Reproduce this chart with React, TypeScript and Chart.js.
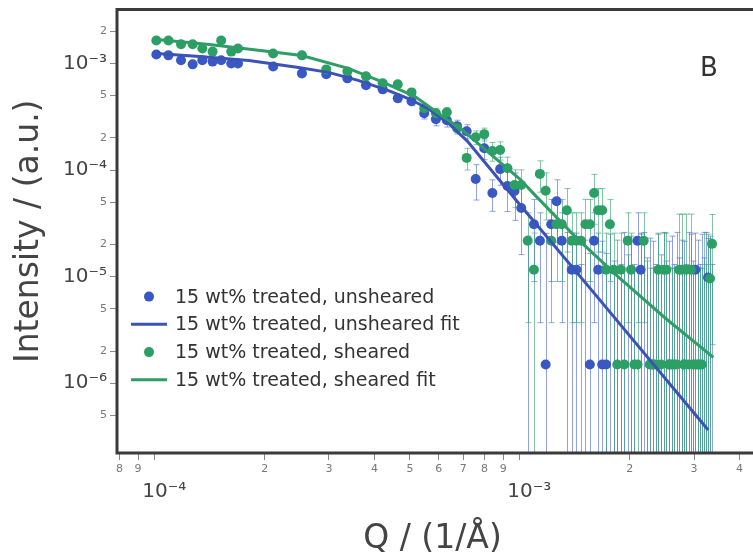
import { useEffect, useRef } from 'react';
import { Chart, registerables } from 'chart.js';

Chart.register(...registerables);

// Scattering vector Q (1/Å), shared by both measured series
const qValues: number[] = [
  1.01e-4, 1.09e-4, 1.18e-4, 1.27e-4, 1.35e-4, 1.44e-4, 1.52e-4, 1.62e-4, 1.69e-4,
  2.11e-4, 2.53e-4, 2.95e-4, 3.37e-4, 3.79e-4, 4.21e-4, 4.63e-4, 5.05e-4, 5.47e-4, 5.89e-4,
  6.31e-4, 6.73e-4, 7.15e-4, 7.57e-4, 7.99e-4, 8.41e-4, 8.83e-4, 9.25e-4, 9.67e-4, 1.009e-3,
  1.051e-3, 1.093e-3, 1.135e-3, 1.177e-3, 1.219e-3, 1.261e-3, 1.303e-3, 1.345e-3, 1.387e-3, 1.429e-3,
  1.471e-3, 1.513e-3, 1.555e-3, 1.597e-3, 1.639e-3, 1.681e-3, 1.723e-3, 1.765e-3, 1.807e-3, 1.849e-3,
  1.891e-3, 1.933e-3, 1.975e-3, 2.017e-3, 2.059e-3, 2.101e-3, 2.143e-3, 2.185e-3, 2.227e-3, 2.269e-3,
  2.311e-3, 2.353e-3, 2.395e-3, 2.437e-3, 2.479e-3, 2.521e-3, 2.563e-3, 2.605e-3, 2.647e-3, 2.689e-3,
  2.731e-3, 2.773e-3, 2.815e-3, 2.857e-3, 2.899e-3, 2.941e-3, 2.983e-3, 3.025e-3, 3.067e-3, 3.109e-3,
  3.151e-3, 3.193e-3, 3.235e-3, 3.277e-3, 3.319e-3, 3.361e-3,
];

// 15 wt% treated, unsheared (0 = no positive intensity: only its error bar shows)
const unshearedI: number[] = [
  1.21e-3, 1.19e-3, 1.07e-3, 9.8e-4, 1.07e-3, 1.04e-3, 1.07e-3, 1.0e-3, 1.0e-3,
  9.37e-4, 8.06e-4, 7.9e-4, 7.24e-4, 6.23e-4, 5.71e-4, 4.71e-4, 4.41e-4, 3.41e-4, 3.0e-4,
  2.93e-4, 2.58e-4, 2.31e-4, 8.23e-5, 1.6e-4, 6.1e-5, 1.02e-4, 7.08e-5, 6.37e-5, 4.41e-5,
  0, 3.1e-5, 2.17e-5, 1.5e-6, 3.1e-5, 5.1e-5, 2.17e-5, 0, 1.16e-5, 1.16e-5,
  0, 0, 1.5e-6, 2.17e-5, 1.16e-5, 1.5e-6, 1.5e-6, 0, 0, 0,
  0, 0, 0, 0, 0, 2.17e-5, 1.16e-5, 0, 0, 0,
  1.5e-6, 0, 0, 0, 0, 0, 1.5e-6, 0, 0, 0,
  0, 0, 1.5e-6, 0, 0, 0, 0, 1.16e-5, 0, 0,
  0, 0, 0, 9.8e-6, 0, 0,
];
const unshearedErr: number[] = [
  3.5e-5, 3.5e-5, 3.5e-5, 3.5e-5, 3.5e-5, 3.5e-5, 3.5e-5, 3.5e-5, 3.5e-5,
  3e-5, 5e-5, 4e-5, 4e-5, 4e-5, 4e-5, 4e-5, 4e-5, 4e-5, 4e-5,
  4e-5, 3.5e-5, 3.5e-5, 3e-5, 3.5e-5, 2e-5, 3e-5, 3e-5, 3e-5, 2.8e-5,
  2.4e-5, 2.2e-5, 1.8e-5, 2.4e-5, 2.2e-5, 3e-5, 1.8e-5, 2.6e-5, 1.4e-5, 1.4e-5,
  1.3e-5, 2.2e-5, 1.5e-5, 1.8e-5, 1.4e-5, 2e-5, 1.5e-5, 2.5e-5, 1.4e-5, 2.2e-5,
  1.3e-5, 2.6e-5, 1.6e-5, 2.4e-5, 1.3e-5, 1.8e-5, 1.4e-5, 2.6e-5, 1.5e-5, 2.3e-5,
  2e-5, 1.3e-5, 2.5e-5, 1.6e-5, 2.6e-5, 1.4e-5, 2e-5, 2.4e-5, 1.3e-5, 2.6e-5,
  1.5e-5, 2.2e-5, 2e-5, 1.3e-5, 2.6e-5, 2.5e-5, 1.4e-5, 1.4e-5, 2.2e-5, 1.3e-5,
  2.5e-5, 1.5e-5, 2.6e-5, 1.3e-5, 2.4e-5, 1.3e-5,
];

// 15 wt% treated, sheared
const shearedI: number[] = [
  1.64e-3, 1.64e-3, 1.51e-3, 1.51e-3, 1.38e-3, 1.29e-3, 1.64e-3, 1.29e-3, 1.38e-3,
  1.24e-3, 1.19e-3, 8.79e-4, 8.42e-4, 7.56e-4, 6.5e-4, 6.37e-4, 5.35e-4, 3.79e-4, 3.41e-4,
  3.48e-4, 2.47e-4, 1.3e-4, 2.03e-4, 2.17e-4, 1.51e-4, 1.54e-4, 1.04e-4, 7.24e-5, 7.24e-5,
  2.17e-5, 1.16e-5, 9.2e-5, 6.4e-5, 2.17e-5, 3.1e-5, 3.1e-5, 4.2e-5, 2.17e-5, 2.17e-5,
  2.17e-5, 3.1e-5, 3.1e-5, 6.1e-5, 4.2e-5, 4.2e-5, 1.16e-5, 3.1e-5, 1.16e-5, 1.5e-6,
  1.16e-5, 1.5e-6, 2.17e-5, 1.16e-5, 1.5e-6, 1.5e-6, 0, 2.17e-5, 0, 1.5e-6,
  1.5e-6, 1.5e-6, 1.16e-5, 1.5e-6, 1.16e-5, 1.16e-5, 1.5e-6, 1.5e-6, 1.5e-6, 1.5e-6,
  1.16e-5, 1.16e-5, 1.5e-6, 1.16e-5, 1.5e-6, 1.16e-5, 1.5e-6, 1.5e-6, 1.5e-6, 1.5e-6,
  1.5e-6, 0, 0, 0, 9.6e-6, 2.03e-5,
];
const shearedErr: number[] = [
  4e-5, 4e-5, 4e-5, 4e-5, 4e-5, 4e-5, 5e-5, 4e-5, 4e-5,
  3e-5, 3e-5, 4e-5, 4e-5, 4e-5, 4e-5, 4e-5, 4e-5, 3.5e-5, 3.5e-5,
  3.5e-5, 3e-5, 3e-5, 3e-5, 3e-5, 3e-5, 3e-5, 2.8e-5, 2.8e-5, 2.8e-5,
  1.8e-5, 1.4e-5, 3e-5, 3e-5, 1.8e-5, 2.2e-5, 2.2e-5, 2.5e-5, 1.8e-5, 1.8e-5,
  1.8e-5, 2.2e-5, 2.2e-5, 3e-5, 2.5e-5, 2.5e-5, 1.4e-5, 2.2e-5, 1.4e-5, 1.05e-5,
  1.4e-5, 1.05e-5, 1.8e-5, 1.4e-5, 1.05e-5, 1.05e-5, 2.5e-5, 1.8e-5, 1.4e-5, 1.05e-5,
  1.05e-5, 1.05e-5, 1.4e-5, 1.05e-5, 1.4e-5, 1.4e-5, 1.05e-5, 1.05e-5, 1.05e-5, 1.05e-5,
  2.7e-5, 2.7e-5, 1.05e-5, 2.7e-5, 1.05e-5, 2.7e-5, 1.05e-5, 1.05e-5, 1.05e-5, 1.05e-5,
  1.05e-5, 2.6e-5, 1.3e-5, 2.5e-5, 1.2e-5, 1.8e-5,
];

// Model fits
const unshearedFitQ: number[] = [1.013e-4, 1.325e-4, 1.811e-4, 2.477e-4, 2.99e-4, 3.606e-4, 4.35e-4, 4.93e-4, 5.59e-4, 6.33e-4, 7.18e-4, 8.13e-4, 9.81e-4, 1.619e-3, 3.28e-3];
const unshearedFitI: number[] = [1.24e-3, 1.16e-3, 1.067e-3, 9.17e-4, 8.24e-4, 6.94e-4, 5.59e-4, 4.71e-4, 3.8e-4, 2.81e-4, 1.866e-4, 1.113e-4, 5.13e-5, 6.64e-6, 3.64e-7];
const shearedFitQ: number[] = [1.013e-4, 1.411e-4, 2.054e-4, 2.525e-4, 3.388e-4, 4.165e-4, 5.15e-4, 6.25e-4, 6.87e-4, 8.13e-4, 1.0e-3, 1.112e-3, 1.429e-3, 1.87e-3, 2.51e-3, 3.39e-3];
const shearedFitI: number[] = [1.675e-3, 1.505e-3, 1.295e-3, 1.188e-3, 8.98e-4, 6.79e-4, 4.92e-4, 3.06e-4, 2.47e-4, 1.506e-4, 8.24e-5, 5.6e-5, 2.31e-5, 9.8e-6, 4.05e-6, 1.75e-6];

const seriesNames: string[] = [
  '15 wt% treated, unsheared',
  '15 wt% treated, unsheared fit',
  '15 wt% treated, sheared',
  '15 wt% treated, sheared fit',
];

const xTickValues: number[] = [8e-5, 9e-5, 1e-4, 2e-4, 3e-4, 4e-4, 5e-4, 6e-4, 7e-4, 8e-4, 9e-4, 1e-3, 2e-3, 3e-3, 4e-3];
const xTickLabels: string[] = ['8', '9', '10⁻⁴', '2', '3', '4', '5', '6', '7', '8', '9', '10⁻³', '2', '3', '4'];
const yTickValues: number[] = [2e-3, 1e-3, 5e-4, 2e-4, 1e-4, 5e-5, 2e-5, 1e-5, 5e-6, 2e-6, 1e-6, 5e-7];
const yTickLabels: string[] = ['2', '10⁻³', '5', '2', '10⁻⁴', '5', '2', '10⁻⁵', '5', '2', '10⁻⁶', '5'];

const xTitle = 'Q / (1/Å)';
const yTitle = 'Intensity / (a.u.)';
const panelLabel = 'B';

const BLUE = '#3a58c3';
const GREEN = '#2c9f65';
const BLUE_LINE = '#3b52b6';
const GREEN_LINE = '#2f9e66';
const BLUE_ERR = 'rgba(70, 100, 210, 0.6)';
const GREEN_ERR = 'rgba(46, 160, 105, 0.6)';
const FONT = 'DejaVu Sans';

export default function App() {
  const canvasRef = useRef<HTMLCanvasElement | null>(null);

  useEffect(() => {
    const canvas = canvasRef.current;
    if (!canvas) return;

    const toPoints = (xs: number[], ys: number[]) =>
      xs.map((x, i) => ({ x, y: ys[i] })).filter((p) => p.y > 0);

    const isMajor = (label: string) => label.startsWith('10');

    const errorBarPlugin = {
      id: 'errorBars',
      beforeDatasetsDraw(chart: any) {
        const { ctx, chartArea: a, scales } = chart;
        const xs = scales.x;
        const ys = scales.y;
        ctx.save();
        ctx.beginPath();
        ctx.rect(a.left, a.top, a.right - a.left, a.bottom - a.top);
        ctx.clip();
        const drawSet = (vals: number[], errs: number[], color: string) => {
          ctx.strokeStyle = color;
          ctx.lineWidth = 1;
          vals.forEach((v, i) => {
            const e = errs[i];
            if (!e) return;
            const px = Math.round(xs.getPixelForValue(qValues[i])) + 0.5;
            const top = ys.getPixelForValue(v + e);
            const low = v - e;
            const bottom = low > 0 ? ys.getPixelForValue(low) : a.bottom + 5;
            ctx.beginPath();
            ctx.moveTo(px, top);
            ctx.lineTo(px, bottom);
            ctx.moveTo(px - 3, top);
            ctx.lineTo(px + 3, top);
            if (low > 0) {
              ctx.moveTo(px - 3, bottom);
              ctx.lineTo(px + 3, bottom);
            }
            ctx.stroke();
          });
        };
        drawSet(unshearedI, unshearedErr, BLUE_ERR);
        drawSet(shearedI, shearedErr, GREEN_ERR);
        ctx.restore();
      },
    };

    const decorPlugin = {
      id: 'decor',
      afterDraw(chart: any) {
        const { ctx, chartArea: a } = chart;
        ctx.save();
        // frame
        ctx.strokeStyle = '#3a3a3a';
        ctx.lineWidth = 3;
        ctx.beginPath();
        ctx.moveTo(chart.width + 5, a.top);
        ctx.lineTo(a.left, a.top);
        ctx.lineTo(a.left, a.bottom);
        ctx.lineTo(chart.width + 5, a.bottom);
        ctx.stroke();

        // legend
        const colors = [BLUE, BLUE_LINE, GREEN, GREEN_LINE];
        ctx.font = `19px "${FONT}"`;
        ctx.textBaseline = 'middle';
        ctx.textAlign = 'left';
        seriesNames.forEach((name, i) => {
          const y = a.top + 287 + i * 27.75;
          ctx.fillStyle = colors[i];
          ctx.strokeStyle = colors[i];
          if (i % 2 === 0) {
            ctx.beginPath();
            ctx.arc(a.left + 32, y, 5, 0, Math.PI * 2);
            ctx.fill();
          } else {
            ctx.lineWidth = 3;
            ctx.beginPath();
            ctx.moveTo(a.left + 14, y);
            ctx.lineTo(a.left + 50, y);
            ctx.stroke();
          }
          ctx.fillStyle = '#333';
          ctx.fillText(name, a.left + 58, y + 1);
        });

        // panel label
        ctx.font = `26px "${FONT}"`;
        ctx.fillStyle = '#333';
        ctx.textBaseline = 'alphabetic';
        ctx.fillText(panelLabel, a.left + 583, a.top + 66);
        ctx.restore();
      },
    };

    const chart = new Chart(canvas, {
      type: 'scatter',
      data: {
        datasets: [
          {
            label: seriesNames[0],
            data: toPoints(qValues, unshearedI),
            backgroundColor: BLUE,
            borderColor: BLUE,
            pointRadius: 5,
            pointBorderWidth: 0,
            order: 4,
          },
          {
            label: seriesNames[2],
            data: toPoints(qValues, shearedI),
            backgroundColor: GREEN,
            borderColor: GREEN,
            pointRadius: 5,
            pointBorderWidth: 0,
            order: 3,
          },
          {
            label: seriesNames[1],
            data: toPoints(unshearedFitQ, unshearedFitI),
            showLine: true,
            borderColor: BLUE_LINE,
            backgroundColor: BLUE_LINE,
            borderWidth: 3,
            pointRadius: 0,
            order: 2,
          },
          {
            label: seriesNames[3],
            data: toPoints(shearedFitQ, shearedFitI),
            showLine: true,
            borderColor: GREEN_LINE,
            backgroundColor: GREEN_LINE,
            borderWidth: 3,
            pointRadius: 0,
            order: 1,
          },
        ],
      },
      options: {
        animation: false,
        responsive: false,
        devicePixelRatio: 1,
        events: [],
        layout: { padding: { top: 8, left: 0, right: 0, bottom: 0 } },
        plugins: { legend: { display: false }, tooltip: { enabled: false } },
        font: { family: FONT },
        scales: {
          x: {
            type: 'logarithmic',
            min: 7.88e-5,
            max: 4.217e-3,
            border: { display: false },
            grid: { display: true, drawOnChartArea: false, drawTicks: true, tickLength: 7, color: '#888' },
            afterBuildTicks: (scale: any) => {
              scale.ticks = xTickValues.map((v, i) => ({ value: v, major: isMajor(xTickLabels[i]) }));
            },
            afterFit: (scale: any) => {
              scale.height = 106;
            },
            ticks: {
              autoSkip: false,
              maxRotation: 0,
              minRotation: 0,
              padding: 3,
              callback: (_v: any, i: number) => {
                const l = xTickLabels[i];
                return isMajor(l) ? ['', '   ' + l] : l;
              },
              font: (c: any) =>
                c.tick && c.tick.major
                  ? { family: FONT, size: 20, lineHeight: 0.95 }
                  : { family: FONT, size: 11 },
              color: (c: any) => (c.tick && c.tick.major ? '#444' : '#777'),
            },
            title: {
              display: true,
              text: xTitle,
              color: '#444',
              font: { family: FONT, size: 33 },
              padding: { top: 0, bottom: 0 },
            },
          },
          y: {
            type: 'logarithmic',
            min: 2.218e-7,
            max: 3.197e-3,
            border: { display: false },
            grid: { display: true, drawOnChartArea: false, drawTicks: true, tickLength: 7, color: '#888' },
            afterBuildTicks: (scale: any) => {
              scale.ticks = yTickValues.map((v, i) => ({ value: v, major: isMajor(yTickLabels[i]) }));
            },
            afterFit: (scale: any) => {
              scale.width = 117;
            },
            ticks: {
              autoSkip: false,
              padding: 3,
              callback: (_v: any, i: number) => yTickLabels[i],
              font: (c: any) =>
                c.tick && c.tick.major ? { family: FONT, size: 20 } : { family: FONT, size: 11 },
              color: (c: any) => (c.tick && c.tick.major ? '#444' : '#777'),
            },
            title: {
              display: true,
              text: yTitle,
              color: '#444',
              font: { family: FONT, size: 33 },
              padding: { top: 10, bottom: 0 },
            },
          },
        },
      } as any,
      plugins: [errorBarPlugin, decorPlugin],
    });

    return () => chart.destroy();
  }, []);

  return (
    <div style={{ position: 'absolute', left: 0, top: 0, width: 753, height: 559, background: '#fff' }}>
      <canvas ref={canvasRef} width={753} height={559} style={{ display: 'block' }} />
    </div>
  );
}
